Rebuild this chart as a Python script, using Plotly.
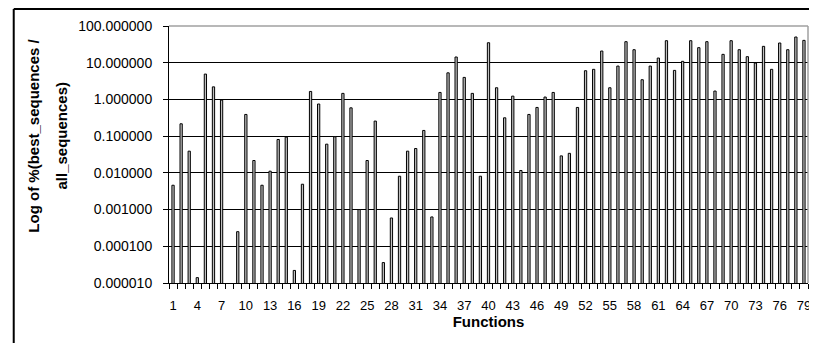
import plotly.graph_objects as go

functions = list(range(1, 80))
values = [
    0.0046, 0.217, 0.039, 0.000014, 4.9, 2.2, 0.96, None, 0.00025, 0.39,
    0.0217, 0.0046, 0.0111, 0.081, 0.094, 0.000022, 0.0049, 1.65, 0.75, 0.0605,
    0.096, 1.46, 0.59, 0.001, 0.0217, 0.257, 0.000036, 0.00059, 0.0081, 0.039,
    0.046, 0.143, 0.00063, 1.55, 5.3, 14.3, 3.98, 1.46, 0.0081, 35.0,
    2.08, 0.316, 1.23, 0.0116, 0.39, 0.605, 1.16, 1.55, 0.029, 0.034,
    0.605, 6.05, 6.6, 20.8, 2.08, 8.1, 37.4, 22.6, 3.44, 8.1,
    13.4, 39.8, 6.18, 10.9, 39.8, 25.7, 37.4, 1.69, 16.9, 39.8,
    22.6, 14.6, 9.8, 27.9, 6.6, 34.4, 22.6, 50.1, 40.6,
]
x_tick_vals = list(range(1, 80, 3))
x_tick_text = [str(v) for v in x_tick_vals]
y_tick_vals = [0.00001, 0.0001, 0.001, 0.01, 0.1, 1, 10, 100]
y_tick_text = ["0.000010", "0.000100", "0.001000", "0.010000",
               "0.100000", "1.000000", "10.000000", "100.000000"]

FONT = "Liberation Sans, Arial, sans-serif"

fig = go.Figure()
fig.add_trace(go.Bar(
    x=functions, y=values, width=0.28,
    marker=dict(color="#c0c0c0", line=dict(color="black", width=1)),
    showlegend=False,
))

# the page body has an 8px margin: figure origin sits at page (8, 8)
OFF = 8
W, H = 817 - OFF, 343 - OFF
L, R, T, B = 169 - OFF, 817 - 811, 26 - OFF, 343 - 283
pw, ph = W - L - R, H - T - B

def px(x):  # page pixel -> paper x
    return (x - OFF - L) / pw

def py(y):  # page pixel -> paper y
    return (H - B - (y - OFF)) / ph

fig.update_layout(
    width=W, height=H,
    margin=dict(l=L, r=R, t=T, b=B, pad=0),
    paper_bgcolor="white", plot_bgcolor="white",
    font=dict(family=FONT, color="black"),
    xaxis=dict(
        range=[0.5, 79.5], tickmode="array", tickvals=x_tick_vals, ticktext=x_tick_text,
        ticks="outside", ticklen=10, tickcolor="rgba(0,0,0,0)",
        tickfont=dict(size=13, family=FONT, color="black"),
        showline=True, linecolor="black", linewidth=1, showgrid=False, zeroline=False,
        minor=dict(tickmode="linear", tick0=0.5, dtick=1, ticks="outside",
                   ticklen=5, tickcolor="black", tickwidth=1, showgrid=False),
        title=dict(text="<b>Functions</b>", font=dict(size=15, family=FONT, color="black"), standoff=0),
    ),
    yaxis=dict(
        type="log", range=[-5, 2], tickmode="array", tickvals=y_tick_vals, ticktext=y_tick_text,
        ticks="outside", ticklen=5, tickcolor="black",
        tickfont=dict(size=14, family=FONT, color="black"),
        ticklabelstandoff=8,
        showline=True, linecolor="black", linewidth=1,
        showgrid=True, gridcolor="black", gridwidth=1, zeroline=False,
    ),
    shapes=[
        dict(type="line", xref="paper", yref="paper", x0=0, x1=1, y0=1, y1=1,
             line=dict(color="#a0a0a0", width=1.5), layer="above"),
        dict(type="line", xref="paper", yref="paper", x0=1, x1=1, y0=0, y1=1,
             line=dict(color="#a0a0a0", width=1.5), layer="above"),
        dict(type="line", xref="paper", yref="paper", x0=px(13), x1=px(817), y0=py(9), y1=py(9),
             line=dict(color="black", width=2)),
        dict(type="line", xref="paper", yref="paper", x0=px(13), x1=px(13), y0=py(9), y1=py(343),
             line=dict(color="black", width=2)),
    ],
    annotations=[
        dict(text="<b>Log of %(best_sequences /</b>", xref="paper", yref="paper",
             x=px(32), y=py(136), textangle=-90, showarrow=False,
             xanchor="center", yanchor="middle", font=dict(size=15, family=FONT, color="black")),
        dict(text="<b>all_sequences)</b>", xref="paper", yref="paper",
             x=px(60), y=py(136), textangle=-90, showarrow=False,
             xanchor="center", yanchor="middle", font=dict(size=15, family=FONT, color="black")),
    ],
)

fig.write_html("out.html")
